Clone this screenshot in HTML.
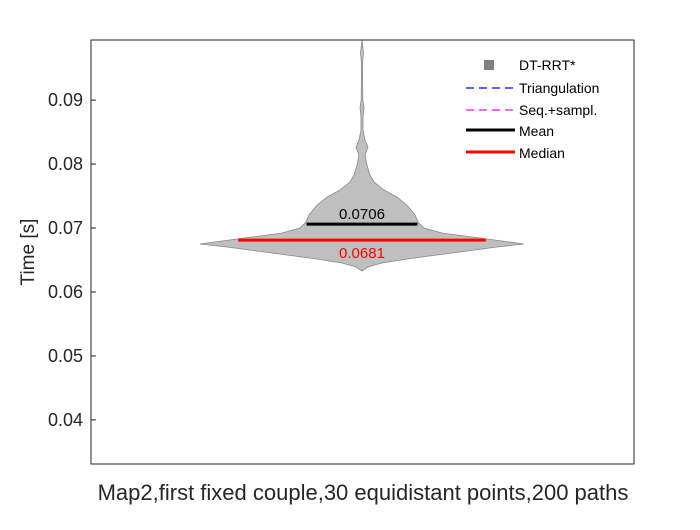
<!DOCTYPE html>
<html><head><meta charset="utf-8"><style>
body{margin:0;background:#fff;font-family:"Liberation Sans",sans-serif}
svg text{font-family:"Liberation Sans",sans-serif}
</style></head><body>
<svg width="700" height="525">
<rect x="0" y="0" width="700" height="525" fill="#fff"/>
<g id="plot"></g>
<rect x="91" y="40" width="543" height="424" fill="none" stroke="#262626" stroke-width="1"/>
<g id="yt"></g>
<text x="34" y="252" font-size="19" text-anchor="middle" transform="rotate(-90 34 252)" fill="#262626">Time [s]</text>
<text x="363" y="500" font-size="22" text-anchor="middle" fill="#262626">Map2,first fixed couple,30 equidistant points,200 paths</text>
<g>
<rect x="484" y="60" width="10" height="10" fill="#808080"/>
<text x="519" y="70" font-size="14">DT-RRT*</text>
<line x1="466" y1="88" x2="515" y2="88" stroke="#0000ff" stroke-dasharray="8,5" stroke-width="1.2"/>
<text x="519" y="93" font-size="14">Triangulation</text>
<line x1="466" y1="110" x2="515" y2="110" stroke="#ff00ff" stroke-dasharray="8,5" stroke-width="1.2"/>
<text x="519" y="115" font-size="14">Seq.+sampl.</text>
<line x1="466" y1="130" x2="515" y2="130" stroke="#000" stroke-width="3"/>
<text x="519" y="136" font-size="14">Mean</text>
<line x1="466" y1="152" x2="515" y2="152" stroke="#f00" stroke-width="3"/>
<text x="519" y="158" font-size="14">Median</text>
</g>
</svg>
<script>
const yTicks=[0.04,0.05,0.06,0.07,0.08,0.09];
const densityTimes=[0.09938,0.09734,0.09578,0.0900,0.08891,0.08734,0.08531,0.08375,0.08266,0.08141,0.07984,0.07828,0.07719,0.07594,0.07484,0.07359,0.07203,0.07094,0.0700,0.06922,0.06859,0.06797,0.0675,0.06703,0.06641,0.06578,0.06516,0.06453,0.06391,0.06328];
const densityWidths=[0,1.5,0.5,0.8,2,1,1,3,6,3,5,8,12,22,35,45,53,56,62,80,110,140,162,135,105,75,45,20,6,0];
const meanValue=0.0706, medianValue=0.0681;
const yMin=0.0331,yMax=0.0994,yTop=40,yBot=464,cx=362;
const Y=v=>yBot-(v-yMin)/(yMax-yMin)*(yBot-yTop);
const NS="http://www.w3.org/2000/svg";
const plot=document.getElementById('plot'), yt=document.getElementById('yt');
let L=[],R=[];
densityTimes.forEach((t,i)=>{L.push((cx-densityWidths[i]).toFixed(1)+','+Y(t).toFixed(1));R.unshift((cx+densityWidths[i]).toFixed(1)+','+Y(t).toFixed(1));});
const poly=document.createElementNS(NS,'polygon');
poly.setAttribute('points',L.concat(R).join(' '));
poly.setAttribute('fill','#bfbfbf');poly.setAttribute('stroke','#888');poly.setAttribute('stroke-width','0.8');


plot.appendChild(poly);
function hline(v,color,name,span){
 const l=document.createElementNS(NS,'line');
 const w=span*72;
 l.setAttribute('x1',cx-w);l.setAttribute('x2',cx+w);l.setAttribute('y1',Y(v));l.setAttribute('y2',Y(v));
 l.setAttribute('stroke',color);l.setAttribute('stroke-width','3');
 
 
 plot.appendChild(l);
}
hline(meanValue,'#000','mean-line',0.77);
hline(medianValue,'#f00','median-line',1.72);
function label(v,dy,color,name){
 const t=document.createElementNS(NS,'text');
 t.setAttribute('x',cx);t.setAttribute('y',Y(v)+dy);t.setAttribute('text-anchor','middle');
 t.setAttribute('font-size','15');t.setAttribute('fill',color);t.textContent=v.toFixed(4);
 
 
 plot.appendChild(t);
}
label(meanValue,-5,'#000','mean-label');
label(medianValue,18,'#f00','median-label');
yTicks.forEach(v=>{
 const y=Y(v);
 const tk=document.createElementNS(NS,'line');
 tk.setAttribute('x1',91);tk.setAttribute('x2',96);tk.setAttribute('y1',y);tk.setAttribute('y2',y);tk.setAttribute('stroke','#262626');
 
 
 yt.appendChild(tk);
 const t=document.createElementNS(NS,'text');
 t.setAttribute('x',83);t.setAttribute('y',y+6);t.setAttribute('text-anchor','end');t.setAttribute('font-size','18');t.setAttribute('fill','#262626');
 t.textContent=v.toFixed(2);
 
 
 yt.appendChild(t);
});
</script>
</body></html>
